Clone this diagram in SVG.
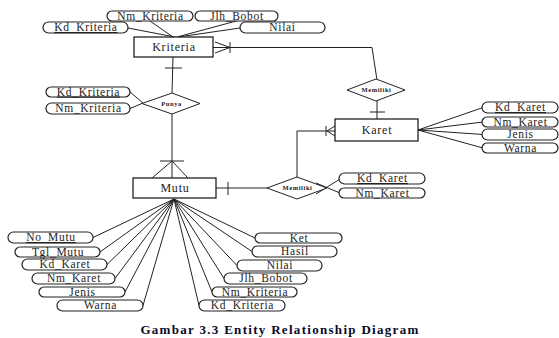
<svg xmlns="http://www.w3.org/2000/svg" width="559" height="338" viewBox="0 0 559 338">
<style>
.pill{fill:#fff;stroke:#222;stroke-width:1.2}
.ent{fill:#fff;stroke:#222;stroke-width:1.3}
.dia{fill:#fff;stroke:#222;stroke-width:1}
.t{font-family:"Liberation Serif","DejaVu Serif",serif;font-size:11.5px;letter-spacing:0.7px;fill:#222;text-anchor:middle}
.te{font-family:"Liberation Serif","DejaVu Serif",serif;font-size:12px;letter-spacing:0.8px;fill:#222;text-anchor:middle}
.td{font-family:"Liberation Serif","DejaVu Serif",serif;font-size:6.5px;letter-spacing:0.6px;font-weight:bold;fill:#222;text-anchor:middle}
.u{text-decoration:underline}
.ln{stroke:#222;stroke-width:1;fill:none}
</style>
<rect width="559" height="338" fill="#fff"/>
<g id="connectors">
<path class="ln" d="M128,28 L175,37 M150,21 L173,37 M240,20 L177,37 M240,28 L178,37"/>
<path class="ln" d="M213,47.5 L372,47.5 L377,80"/>
<path class="ln" d="M215,42 L230,47.5 L215,53 M230,42 L230,53"/>
<path class="ln" d="M377,100 L377,119 M370,112 L385,112"/>
<path class="ln" d="M173,57 L172,93 M165,68 L182,68"/>
<path class="ln" d="M130,92 L143,103 M130,108.5 L143,103"/>
<path class="ln" d="M172,114 L172,178 M160,161 L184,161 M172,161 L152,178 M172,161 L188,178"/>
<path class="ln" d="M216,188 L267,188 M228,182 L228,195"/>
<path class="ln" d="M297,177 L297,131 L335,131 M326,126 L326,136 M327,131 L335,126 M327,131 L335,136"/>
<path class="ln" d="M340,179 L316,194 M340,193 L316,183"/>
<path class="ln" d="M418,130 L483,107.5 M418,130 L483,122 M418,130 L483,134.5 M418,130 L483,148"/>
<path class="ln" d="M174,199 L93,237.5 M174,199 L100,252 M174,199 L107,264.5 M174,199 L115,278.5 M174,199 L125,292 M174,199 L143,305.5 M174,199 L255,238 M174,199 L252,251.5 M174,199 L237,265.5 M174,199 L224,278.5 M174,199 L212,292 M174,199 L199,305.5"/>
</g>
<g id="kriteria"><rect class="ent" x="134" y="37" width="79" height="20"/><text class="te" x="174" y="51">Kriteria</text></g>
<g id="mutu"><rect class="ent" x="133" y="178" width="83" height="20"/><text class="te" x="175" y="192">Mutu</text></g>
<g id="karet"><rect class="ent" x="335" y="119" width="83" height="22"/><text class="te" x="377" y="134">Karet</text></g>
<g id="memiliki1"><polygon class="dia" points="376,79 405,90 376,101 347,90"/><text class="td" x="376.5" y="92">Memiliki</text></g>
<g id="punya"><polygon class="dia" points="172,93 200,103.5 172,114 142,103.5"/><text class="td" x="171.5" y="105.5">Punya</text></g>
<g id="memiliki2"><polygon class="dia" points="297,177 327,188 297,199 267,188"/><text class="td" x="297.5" y="190">Memiliki</text></g>
<g id="a-nm-kriteria"><rect class="pill" x="107" y="11" width="86" height="10" rx="5"/><text class="t" x="150.5" y="19.5">Nm_Kriteria</text></g>
<g id="a-jlh-bobot"><rect class="pill" x="195" y="11" width="83" height="10" rx="5"/><text class="t" x="237" y="19.5">Jlh_Bobot</text></g>
<g id="a-kd-kriteria"><rect class="pill" x="43" y="22" width="85" height="11" rx="5.5"/><text class="t u" x="86" y="31">Kd_Kriteria</text></g>
<g id="a-nilai"><rect class="pill" x="240" y="22" width="85" height="11" rx="5.5"/><text class="t" x="282.5" y="31">Nilai</text></g>
<g id="p-kd-kriteria"><rect class="pill" x="46" y="87" width="84" height="10" rx="5"/><text class="t u" x="88.5" y="95.5">Kd_Kriteria</text></g>
<g id="p-nm-kriteria"><rect class="pill" x="46" y="103" width="84" height="11" rx="5.5"/><text class="t" x="88.5" y="112">Nm_Kriteria</text></g>
<g id="k-kd-karet"><rect class="pill" x="482" y="102" width="76" height="11" rx="5.5"/><text class="t u" x="520.5" y="111">Kd_Karet</text></g>
<g id="k-nm-karet"><rect class="pill" x="482" y="117" width="76" height="10" rx="5"/><text class="t" x="520.5" y="125.5">Nm_Karet</text></g>
<g id="k-jenis"><rect class="pill" x="482" y="129" width="76" height="11" rx="5.5"/><text class="t" x="520.5" y="138">Jenis</text></g>
<g id="k-warna"><rect class="pill" x="482" y="143" width="76" height="10" rx="5"/><text class="t" x="520.5" y="151.5">Warna</text></g>
<g id="m-kd-karet"><rect class="pill" x="339" y="173" width="86" height="11" rx="5.5"/><text class="t u" x="382.5" y="182">Kd_Karet</text></g>
<g id="m-nm-karet"><rect class="pill" x="339" y="188" width="86" height="10" rx="5"/><text class="t" x="382.5" y="196.5">Nm_Karet</text></g>
<g id="mu-no-mutu"><rect class="pill" x="8" y="232" width="85" height="11" rx="5.5"/><text class="t u" x="51" y="241">No_Mutu</text></g>
<g id="mu-tgl-mutu"><rect class="pill" x="15" y="247" width="85" height="10" rx="5"/><text class="t" x="58" y="255.5">Tgl_Mutu</text></g>
<g id="mu-kd-karet"><rect class="pill" x="22" y="259" width="85" height="11" rx="5.5"/><text class="t" x="65" y="268">Kd_Karet</text></g>
<g id="mu-nm-karet"><rect class="pill" x="32" y="273" width="83" height="11" rx="5.5"/><text class="t" x="74" y="282">Nm_Karet</text></g>
<g id="mu-jenis"><rect class="pill" x="39" y="287" width="86" height="10" rx="5"/><text class="t" x="82.5" y="295.5">Jenis</text></g>
<g id="mu-warna"><rect class="pill" x="57" y="300" width="86" height="11" rx="5.5"/><text class="t" x="100.5" y="309">Warna</text></g>
<g id="mu-ket"><rect class="pill" x="255" y="233" width="87" height="10" rx="5"/><text class="t" x="299" y="241.5">Ket</text></g>
<g id="mu-hasil"><rect class="pill" x="252" y="246" width="85" height="11" rx="5.5"/><text class="t" x="295" y="255">Hasil</text></g>
<g id="mu-nilai"><rect class="pill" x="237" y="260" width="85" height="11" rx="5.5"/><text class="t" x="280" y="269">Nilai</text></g>
<g id="mu-jlh-bobot"><rect class="pill" x="224" y="273" width="83" height="11" rx="5.5"/><text class="t" x="266" y="282">Jlh_Bobot</text></g>
<g id="mu-nm-kriteria"><rect class="pill" x="212" y="287" width="85" height="10" rx="5"/><text class="t" x="255" y="295.5">Nm_Kriteria</text></g>
<g id="mu-kd-kriteria"><rect class="pill" x="199" y="300" width="86" height="11" rx="5.5"/><text class="t" x="242.5" y="309">Kd_Kriteria</text></g>
<text x="280" y="334" font-family="'Liberation Serif','DejaVu Serif',serif" font-size="13" font-weight="bold" fill="#0a0a2a" text-anchor="middle" letter-spacing="1.3">Gambar 3.3 Entity Relationship Diagram</text>
</svg>
